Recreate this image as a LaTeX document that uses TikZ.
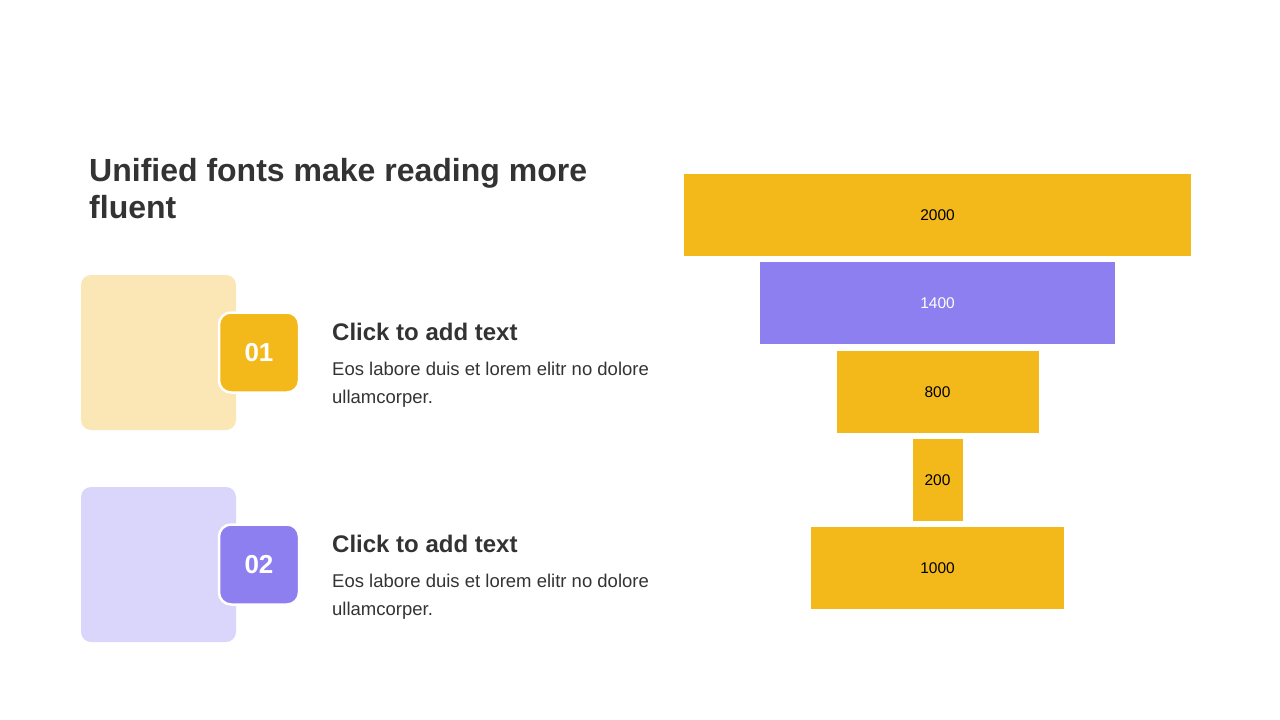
\documentclass[tikz,border=0pt]{standalone}
\usepackage{fontspec}
\setmainfont{Liberation Sans}
\usepackage{xcolor}
\usepackage{tikz}

\definecolor{gold}{HTML}{F3B91A}
\definecolor{violet}{HTML}{8E7FF0}
\definecolor{paleGold}{HTML}{FBE7B5}
\definecolor{paleViolet}{HTML}{DAD5FA}
\definecolor{ink}{HTML}{333333}

\tikzset{
    card/.style={rectangle, rounded corners=10pt, minimum size=155pt, inner sep=0pt},
    badge/.style={rectangle, rounded corners=12pt, minimum size=80pt, draw=white, line width=2.5pt,
        text=white, font=\fontsize{26}{30}\selectfont\bfseries},
    bar/.style={rectangle, minimum height=82pt, inner sep=0pt, fill=gold, text=black,
        font=\fontsize{15.5}{18}\selectfont},
    head/.style={anchor=base west, inner sep=0pt, text=ink, font=\fontsize{24}{28}\selectfont\bfseries},
    body/.style={anchor=base west, inner sep=0pt, text=ink, font=\fontsize{18.5}{22}\selectfont},
    title/.style={anchor=base west, inner sep=0pt, text=ink, font=\fontsize{32}{38}\selectfont\bfseries}
}

\begin{document}
\begin{tikzpicture}[x=1pt, y=-1pt]
    \useasboundingbox (0,0) rectangle (1280,720);
    % heading
    \node[title] (title1) at (89,181) {Unified fonts make reading more};
    \node[title] (title2) at (89,218) {fluent};
    % first item
    \node[card, fill=paleGold] (card1) at (158.5,352.5) {};
    \node[badge, fill=gold] (badge1) at (259,352.5) {01};
    \node[head] (head1) at (332,340) {Click to add text};
    \node[body] (text1a) at (332,375) {Eos labore duis et lorem elitr no dolore};
    \node[body] (text1b) at (332,403) {ullamcorper.};
    % second item
    \node[card, fill=paleViolet] (card2) at (158.5,564.5) {};
    \node[badge, fill=violet] (badge2) at (259,564.5) {02};
    \node[head] (head2) at (332,552) {Click to add text};
    \node[body] (text2a) at (332,587) {Eos labore duis et lorem elitr no dolore};
    \node[body] (text2b) at (332,615) {ullamcorper.};
    % funnel
    \node[bar, minimum width=507pt] (v2000) at (937.5,215) {2000};
    \node[bar, minimum width=355pt, fill=violet, text=white] (v1400) at (937.5,303) {1400};
    \node[bar, minimum width=202pt] (v800) at (937.5,392) {800};
    \node[bar, minimum width=50pt] (v200) at (937.5,480) {200};
    \node[bar, minimum width=253pt] (v1000) at (937.5,568) {1000};
\end{tikzpicture}
\end{document}
